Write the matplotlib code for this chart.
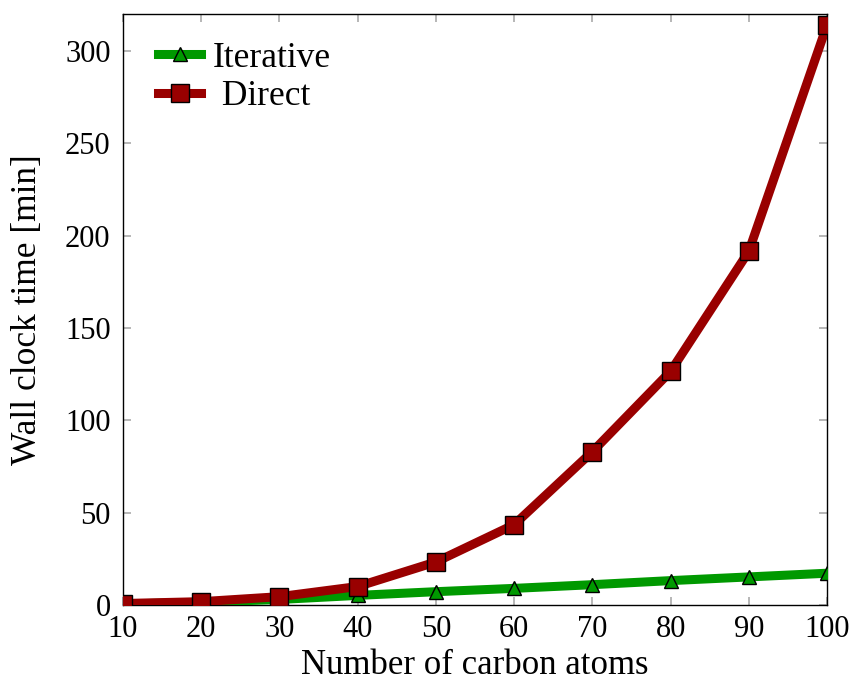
import matplotlib
matplotlib.use('Agg')
import matplotlib.pyplot as plt

# number of carbon atoms vs wall clock time [min]
atoms = [10, 20, 30, 40, 50, 60, 70, 80, 90, 100]
iterative = [0.5, 1.5, 3.0, 5.2, 7.2, 9.0, 11.0, 13.2, 15.2, 17.2]
direct = [0.8, 1.8, 4.5, 10.0, 23.3, 43.5, 83.0, 126.5, 191.5, 314.0]

green = '#009900'
red = '#990000'

plt.rcParams['font.family'] = ['Liberation Serif', 'DejaVu Serif']

fig = plt.figure(figsize=(8.52, 6.85), dpi=100)
ax = fig.add_axes([0.1444, 0.1168, 0.8263, 0.8628])

ax.plot(atoms, iterative, color=green, linewidth=6.5, marker='^',
        markersize=10.5, markerfacecolor=green, markeredgecolor='black',
        markeredgewidth=1.0, label='Iterative', zorder=3)
ax.plot(atoms, direct, color=red, linewidth=6.5, marker='s',
        markersize=12.5, markerfacecolor=red, markeredgecolor='black',
        markeredgewidth=1.0, label=' Direct', zorder=4)

ax.set_xlim(10, 100)
ax.set_ylim(0, 320)
ax.set_xticks(atoms)
ax.set_yticks([0, 50, 100, 150, 200, 250, 300])
ax.tick_params(direction='in', length=6, width=1.2, color='#aaaaaa',
               top=True, right=True, labelsize=22)
ax.tick_params(axis='x', pad=7)
ax.tick_params(axis='y', pad=9)
for s in ax.spines.values():
    s.set_linewidth(1.0)
    s.set_color('black')

ax.set_xlabel('Number of carbon atoms', fontsize=25, labelpad=4)
ax.set_ylabel('Wall clock time [min]', fontsize=25.5, labelpad=15)

ax.legend(loc='upper left', frameon=False, fontsize=25.5, handlelength=1.2,
          handletextpad=0.35, borderaxespad=0.0, labelspacing=0.15,
          bbox_to_anchor=(0.03, 0.977))

fig.savefig('out.png', dpi=100)
